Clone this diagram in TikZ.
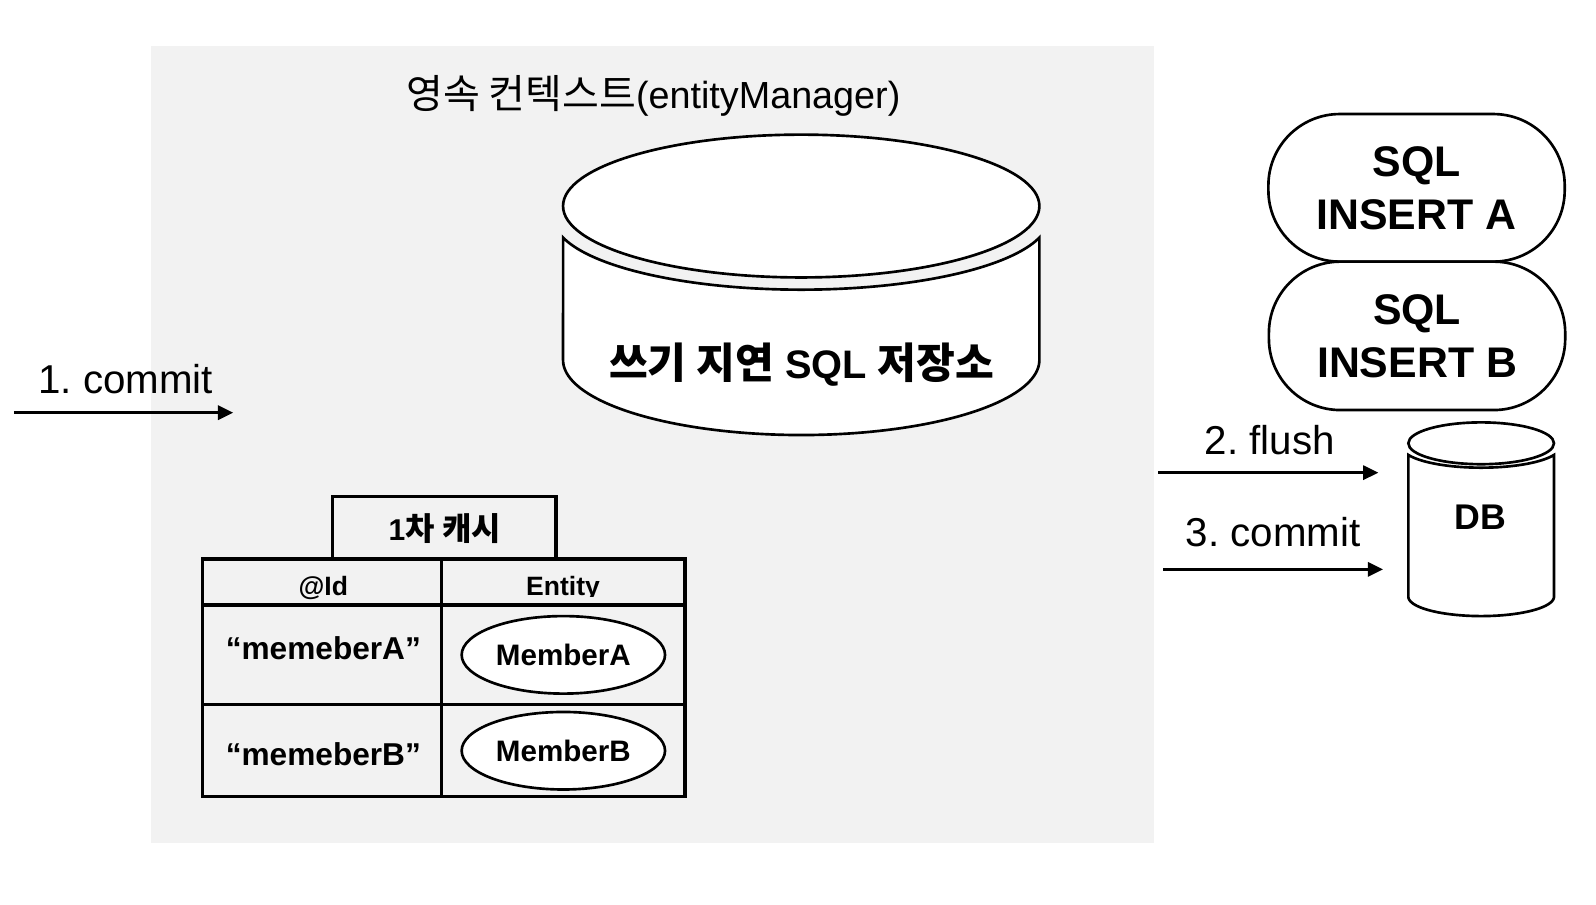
\documentclass[tikz,border=0pt]{standalone}
\usepackage{fontspec}
\setmainfont{Liberation Sans}
\newfontfamily\kr[Scale=1.06]{Noto Sans CJK KR}
\usetikzlibrary{arrows.meta,shapes.geometric}
\definecolor{bggray}{HTML}{F2F2F2}
\frenchspacing
\tikzset{
  lw/.style={line width=2.6pt},
  flowarrow/.style={line width=2.6pt, -{Triangle[length=15pt,width=14pt]}},
  lbl/.style={anchor=base, inner sep=0pt, font=\fontsize{39.5}{47}\selectfont},
  cellbox/.style={draw, line width=3.2pt, inner sep=0pt},
  celltext/.style={anchor=base, inner sep=0pt, font=\bfseries\fontsize{31}{37}\selectfont},
  headtext/.style={anchor=base, inner sep=0pt, font=\bfseries\fontsize{26}{31}\selectfont},
  entitybox/.style={ellipse, draw, lw, fill=white, inner sep=0pt, minimum width=199.4pt, minimum height=76pt, font=\bfseries\fontsize{29}{35}\selectfont},
  sqlbox/.style={draw, lw, fill=white, rounded corners=70pt, minimum width=290.5pt, inner sep=0pt, align=center, font=\bfseries\fontsize{42}{52}\selectfont},
}
\begin{document}
\begin{tikzpicture}[x=1pt,y=-1pt]
\useasboundingbox (0,0) rectangle (1564.7,886.3);
\fill[white] (0,0) rectangle (1564.7,886.3);
% persistence context background
\fill[bggray] (148,44.8) rectangle (1131.5,826);
\node[anchor=base, inner sep=0pt, font=\fontsize{37}{44}\selectfont] (title) at (640.5,106) {{\kr 영속 컨텍스트}(entityManager)};

% write-behind SQL store (cylinder)
\filldraw[lw, fill=white] plot[domain=164.3:15.7, samples=90] ({785.5+242.5*cos(\x)},{214+70*sin(\x)})
  -- (1019,353) -- plot[domain=0:180, samples=90] ({785.5+233.5*cos(\x)},{353+73.5*sin(\x)}) -- cycle;
\filldraw[lw, fill=white] (785.5,202) ellipse [x radius=233.5, y radius=70];
\node[anchor=base, inner sep=0pt, font=\bfseries\fontsize{39}{46}\selectfont] (store) at (786,371) {{\kr 쓰기 지연} SQL {\kr 저장소}};

% first-level cache table
\node[cellbox, minimum width=219pt, minimum height=60.4pt] (cache) at (435.5,517.2) {};
\node[anchor=base, inner sep=0pt, font=\bfseries\fontsize{29.5}{35}\selectfont] (cachetext) at (436,529.5) {1{\kr 차 캐시}};
\node[cellbox, minimum width=234.3pt, minimum height=45pt] (hid) at (315.85,570.5) {};
\node[cellbox, minimum width=238.6pt, minimum height=45pt] (hent) at (552.3,570.5) {};
\node[cellbox, minimum width=234.3pt, minimum height=98pt] (r1id) at (315.85,642) {};
\node[cellbox, minimum width=238.6pt, minimum height=98pt] (r1ent) at (552.3,642) {};
\node[cellbox, minimum width=234.3pt, minimum height=90pt] (r2id) at (315.85,736) {};
\node[cellbox, minimum width=238.6pt, minimum height=90pt] (r2ent) at (552.3,736) {};
\node[headtext] (idtext) at (317,583.5) {@Id};
\begin{scope}
  \clip (436,552) rectangle (669,585);
  \node[headtext] (enttext) at (552,583.5) {Entity};
\end{scope}
\node[celltext] (ida) at (317,647) {“memeberA”};
\node[celltext] (idb) at (317,750) {“memeberB”};
\node[entitybox] (mema) at (552.3,642) {MemberA};
\node[entitybox] (memb) at (552.3,736) {MemberB};

% SQL statements
\node[sqlbox, minimum height=144.7pt] (sqla) at (1388.75,184.15) {SQL\\INSERT A};
\node[sqlbox, minimum height=145.5pt] (sqlb) at (1389.25,329.25) {SQL\\INSERT B};

% DB cylinder
\filldraw[lw, fill=white] plot[domain=157:23, samples=60] ({1452.1+77.5*cos(\x)},{438+20.5*sin(\x)})
  -- (1523.5,585) -- plot[domain=0:180, samples=60] ({1452.1+71.4*cos(\x)},{585+19*sin(\x)}) -- cycle;
\filldraw[lw, fill=white] (1452.1,434.6) ellipse [x radius=71.4, y radius=20.5];
\node[anchor=base, inner sep=0pt, font=\bfseries\fontsize{35}{42}\selectfont] (db) at (1451.6,519.3) {DB};

% arrows
\coordinate (c1s) at (13.7,404.6);
\coordinate (c1e) at (228.6,404.6);
\draw[flowarrow] (c1s) -- (c1e);
\node[lbl] (l1) at (123.3,385.6) {1. commit};
\coordinate (f2s) at (1135.6,463.4);
\coordinate (f2e) at (1351.3,463.4);
\draw[flowarrow] (f2s) -- (f2e);
\node[lbl] (l2) at (1245,446) {2. flush};
\coordinate (c3s) at (1140.5,558.2);
\coordinate (c3e) at (1356,558.2);
\draw[flowarrow] (c3s) -- (c3e);
\node[lbl] (l3) at (1248.3,536) {3. commit};
\end{tikzpicture}
\end{document}
